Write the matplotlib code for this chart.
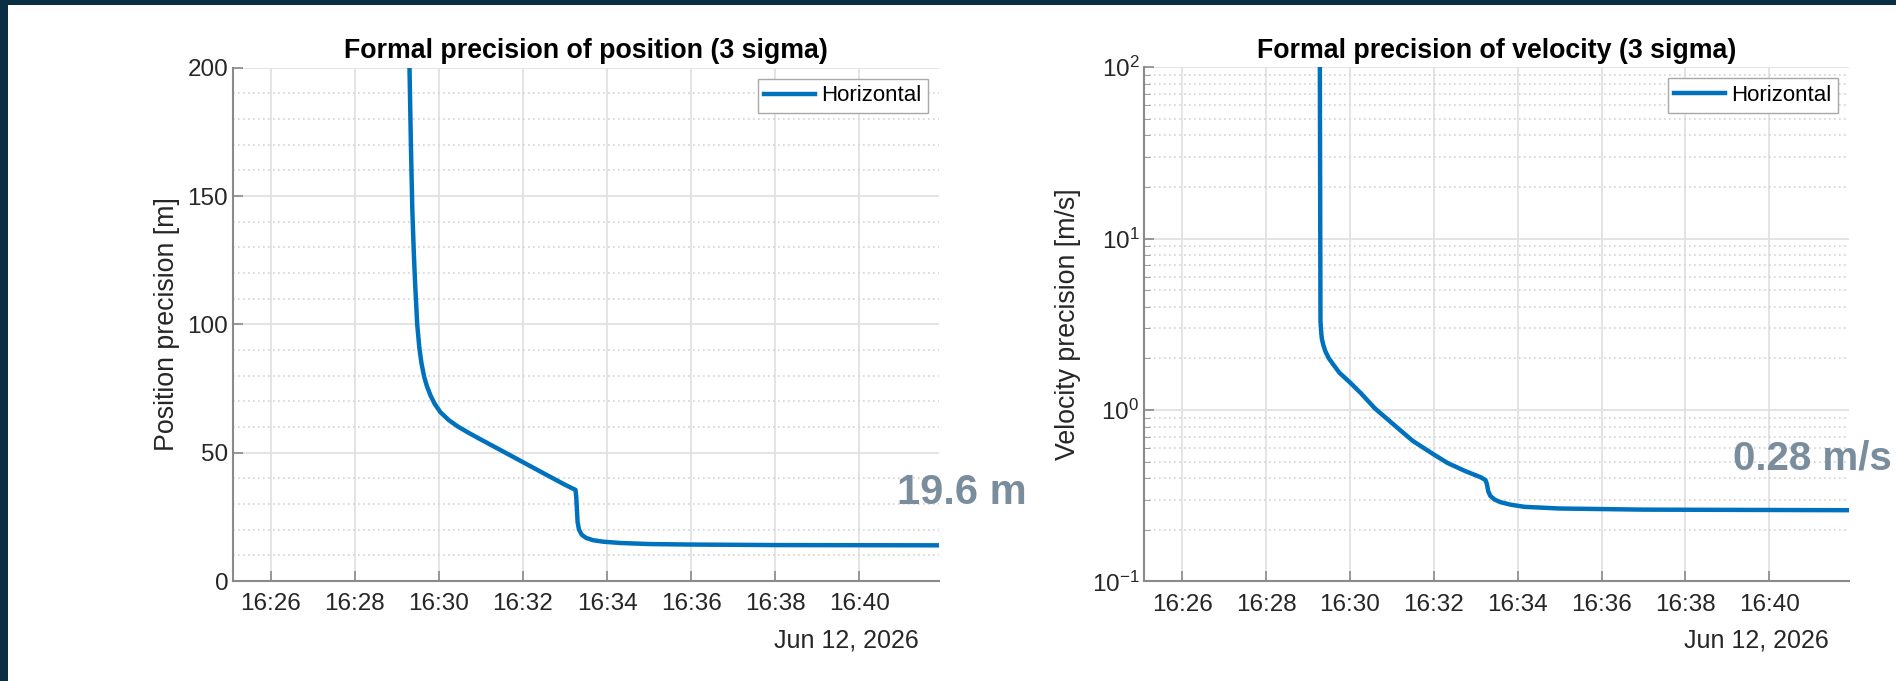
import pandas as pd
import matplotlib.pyplot as plt
import matplotlib.dates as mdates
from matplotlib.patches import Rectangle

plt.rcParams['font.family'] = ['Liberation Sans', 'DejaVu Sans']

day = "2026-06-12 "

# horizontal position precision (3 sigma), metres
pos_times = ["16:29:17", "16:29:18", "16:29:20", "16:29:22", "16:29:24", "16:29:26",
             "16:29:29", "16:29:32", "16:29:35", "16:29:39", "16:29:43", "16:29:48",
             "16:29:54", "16:30:02", "16:30:14", "16:30:27", "16:30:42", "16:30:58",
             "16:31:26", "16:32:00", "16:32:34", "16:33:00", "16:33:15", "16:33:16",
             "16:33:17", "16:33:18", "16:33:20", "16:33:24", "16:33:30", "16:33:40",
             "16:33:55", "16:34:20", "16:35:00", "16:36:00", "16:38:00", "16:41:52"]
pos_vals = [230, 200, 170, 145, 129, 116,
            100, 91, 85, 79.5, 75.8, 72.3,
            69.0, 65.8, 62.7, 60.2, 57.8, 55.4,
            51.3, 46.3, 41.3, 37.5, 35.5, 33,
            28, 23, 20, 18, 16.8, 15.9,
            15.3, 14.8, 14.4, 14.2, 14.0, 13.9]

# horizontal velocity precision (3 sigma), m/s
vel_times = ["16:29:17", "16:29:18", "16:29:19", "16:29:20", "16:29:22", "16:29:25",
             "16:29:30", "16:29:36", "16:29:45", "16:30:00", "16:30:16", "16:30:36",
             "16:31:06", "16:31:30", "16:32:00", "16:32:20", "16:32:45", "16:33:07",
             "16:33:14", "16:33:16", "16:33:18", "16:33:21", "16:33:27", "16:33:35",
             "16:33:50", "16:34:10", "16:35:00", "16:37:00", "16:41:52"]
vel_vals = [150, 3.3, 2.85, 2.6, 2.4, 2.2,
            2.0, 1.85, 1.65, 1.45, 1.25, 1.02,
            0.80, 0.66, 0.55, 0.49, 0.44, 0.405,
            0.39, 0.37, 0.335, 0.315, 0.30, 0.29,
            0.28, 0.272, 0.266, 0.262, 0.26]

t_start = pd.Timestamp(day + "16:25:06")
t_end = pd.Timestamp(day + "16:41:54")

pos_t = pd.to_datetime([day + t for t in pos_times])
vel_t = pd.to_datetime([day + t for t in vel_times])

W, H = 1896, 681
fig = plt.figure(figsize=(W / 100, H / 100), dpi=100)
fig.patch.set_facecolor('#0a2f45')
fig.patches.append(Rectangle((8 / W, 0), 1 - 8 / W, 1 - 5 / H, transform=fig.transFigure,
                             facecolor='white', edgecolor='none', zorder=-10))

blue = '#0072BD'
txt = '#262626'
fs = 17.5
fs_label = 19.25


def setup(ax, title, ylabel, labelpad):
    ax.set_facecolor('white')
    ax.set_xlim(t_start, t_end)
    ax.xaxis.set_major_locator(mdates.MinuteLocator(byminute=range(0, 60, 2)))
    ax.xaxis.set_major_formatter(mdates.DateFormatter('%H:%M'))
    for s in ['top', 'right']:
        ax.spines[s].set_visible(False)
    for s in ['left', 'bottom']:
        ax.spines[s].set_color('#8a8a8a')
        ax.spines[s].set_linewidth(1.5)
    ax.tick_params(axis='both', which='major', direction='in', length=7, width=1.2,
                   color='#8a8a8a', labelsize=fs, labelcolor=txt)
    ax.tick_params(axis='x', pad=9)
    ax.grid(True, which='major', color='#e2e2e2', linewidth=1.3, linestyle='-')
    ax.grid(True, which='minor', axis='y', color='#d4d4d4', linewidth=1.2,
            linestyle=(0, (1, 2)))
    ax.set_axisbelow(True)
    ax.set_title(title, fontsize=fs_label, fontweight='bold', color='black', pad=7)
    ax.set_ylabel(ylabel, fontsize=fs_label, color=txt, labelpad=labelpad)
    ax.text(1 - 20 / 706, -0.115, "Jun 12, 2026", transform=ax.transAxes,
            ha='right', va='center', fontsize=18, color=txt)
    ax.legend(loc='upper right', fontsize=16, frameon=True, fancybox=False,
              edgecolor='#a8a8a8', framealpha=1, borderaxespad=0.5, borderpad=0.3,
              handlelength=2.3, handletextpad=0.25)


ax1 = fig.add_axes([233 / W, 1 - 581 / H, 706 / W, 513.3 / H])
ax1.plot(pos_t, pos_vals, color=blue, linewidth=3.2, label='Horizontal',
         solid_joinstyle='round')
ax1.set_ylim(0, 200)
ax1.set_yticks([0, 50, 100, 150, 200])
ax1.set_yticks(range(10, 200, 10), minor=True)
ax1.tick_params(axis='y', which='minor', length=0)
setup(ax1, "Formal precision of position (3 sigma)", "Position precision [m]", 5)

ax2 = fig.add_axes([1144.3 / W, 1 - 581.3 / H, 704.7 / W, 514 / H])
ax2.plot(vel_t, vel_vals, color=blue, linewidth=3.2, label='Horizontal',
         solid_joinstyle='round')
ax2.set_yscale('log')
ax2.set_ylim(0.1, 100)
ax2.tick_params(axis='y', which='minor', direction='in', length=4, color='#8a8a8a')
setup(ax2, "Formal precision of velocity (3 sigma)", "Velocity precision [m/s]", 8)

# final values called out beside each panel
fig.text(897 / W, 1 - 504 / H, "19.6 m", fontsize=30, fontweight='bold',
         color='#7a8d9c', ha='left', va='baseline')
fig.text(1733 / W, 1 - 470 / H, "0.28 m/s", fontsize=29, fontweight='bold',
         color='#7a8d9c', ha='left', va='baseline')

fig.savefig('out.png', dpi=100, facecolor=fig.get_facecolor())
